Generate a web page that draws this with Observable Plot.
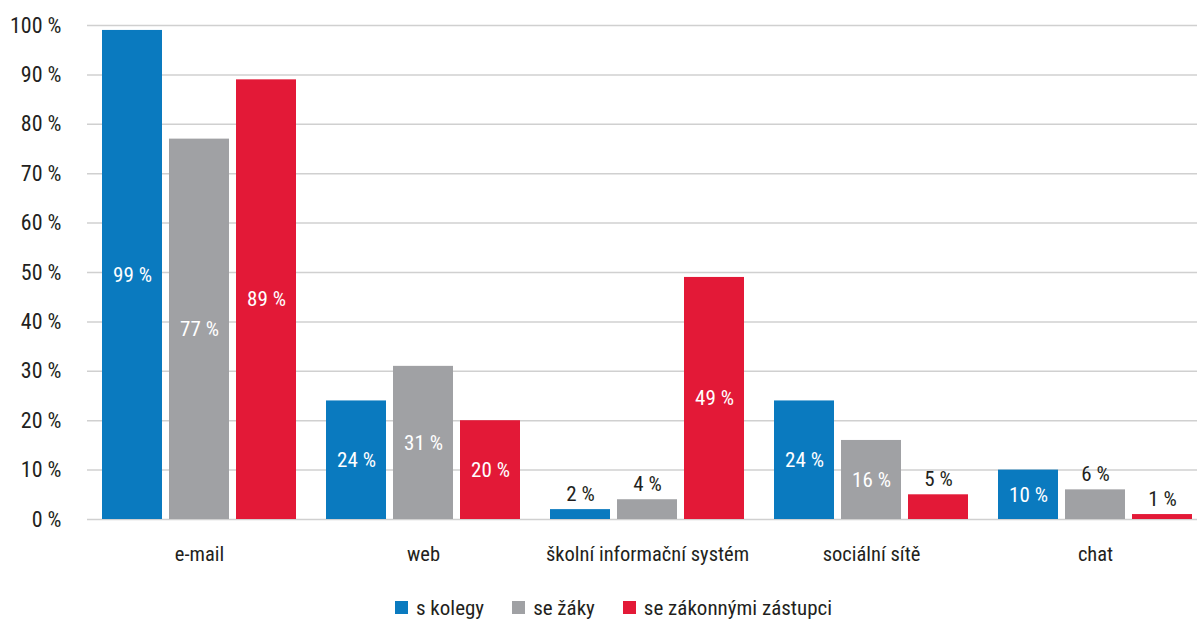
<!DOCTYPE html>
<html>
<head>
<meta charset="utf-8">
<script src="https://cdn.jsdelivr.net/npm/d3@7"></script>
<script src="https://cdn.jsdelivr.net/npm/@observablehq/plot@0.6"></script>
<style>
  html, body { margin: 0; padding: 0; background: #fff; overflow: hidden; }
  #chart { width: 1197px; }
  .legend { display: flex; justify-content: center; align-items: center; height: 41px; box-sizing: border-box; padding-top: 14px;
    font-family: "Liberation Sans Narrow", "Roboto Condensed", "DejaVu Sans Condensed", sans-serif;
    font-size: 21px; color: #231f20; padding-left: 30px; }
  .legend .item { display: flex; align-items: center; margin: 0 14px; }
  .legend .sw { width: 13px; height: 13px; margin-right: 8px; }
</style>
</head>
<body>
<div id="chart"></div>
<script>
const categories = ["e-mail", "web", "školní informační systém", "sociální sítě", "chat"];
const series = ["s kolegy", "se žáky", "se zákonnými zástupci"];
const sKolegy = [99, 24, 2, 24, 10];
const seZaky = [77, 31, 4, 16, 6];
const seZastupci = [89, 20, 49, 5, 1];
const colors = ["#0a7abf", "#a0a1a4", "#e31937"];
const yTicks = [0, 10, 20, 30, 40, 50, 60, 70, 80, 90, 100];

const seriesValues = [sKolegy, seZaky, seZastupci];
const data = [];
categories.forEach((c, i) => {
  series.forEach((s, j) => data.push({category: c, series: s, value: seriesValues[j][i]}));
});

const font = '"Liberation Sans Narrow", "Roboto Condensed", "DejaVu Sans Condensed", sans-serif';

const chart = Plot.plot({
  width: 1197,
  height: 580,
  marginLeft: 87,
  marginRight: -10,
  marginTop: 25,
  marginBottom: 61,
  style: {fontFamily: font, fontSize: "22px", color: "#231f20", background: "#fff"},
  fx: {domain: categories, padding: 0, label: null},
  x: {domain: series, paddingInner: 0.1, paddingOuter: 0.2, axis: null},
  y: {domain: [0, 100], label: null},
  color: {domain: series, range: colors},
  marks: [
    Plot.ruleY(yTicks, {stroke: "#d0d0d0", strokeWidth: 1.5}),
    Plot.axisY({ticks: yTicks, tickFormat: d => d + " %", tickSize: 0, tickPadding: 26, fontSize: 22, label: null}),
    Plot.axisFx({anchor: "bottom", tickSize: 0, tickPadding: 27, fontSize: 20.5, label: null}),
    Plot.barY(data, {fx: "category", x: "series", y: "value", fill: "series"}),
    Plot.text(data.filter(d => d.value >= 10), {
      fx: "category", x: "series", y: d => d.value / 2, text: d => d.value + " %",
      fill: "white", fontSize: 21
    }),
    Plot.text(data.filter(d => d.value < 10), {
      fx: "category", x: "series", y: "value", text: d => d.value + " %",
      fill: "#231f20", fontSize: 21, lineAnchor: "bottom", dy: -9
    })
  ]
});
document.getElementById("chart").appendChild(chart);

const legend = document.createElement("div");
legend.className = "legend";
series.forEach((s, i) => {
  const item = document.createElement("div");
  item.className = "item";
  const sw = document.createElement("div");
  sw.className = "sw";
  sw.style.background = colors[i];
  const t = document.createElement("span");
  t.textContent = s;
  item.appendChild(sw);
  item.appendChild(t);
  legend.appendChild(item);
});
document.getElementById("chart").appendChild(legend);
</script>
</body>
</html>
